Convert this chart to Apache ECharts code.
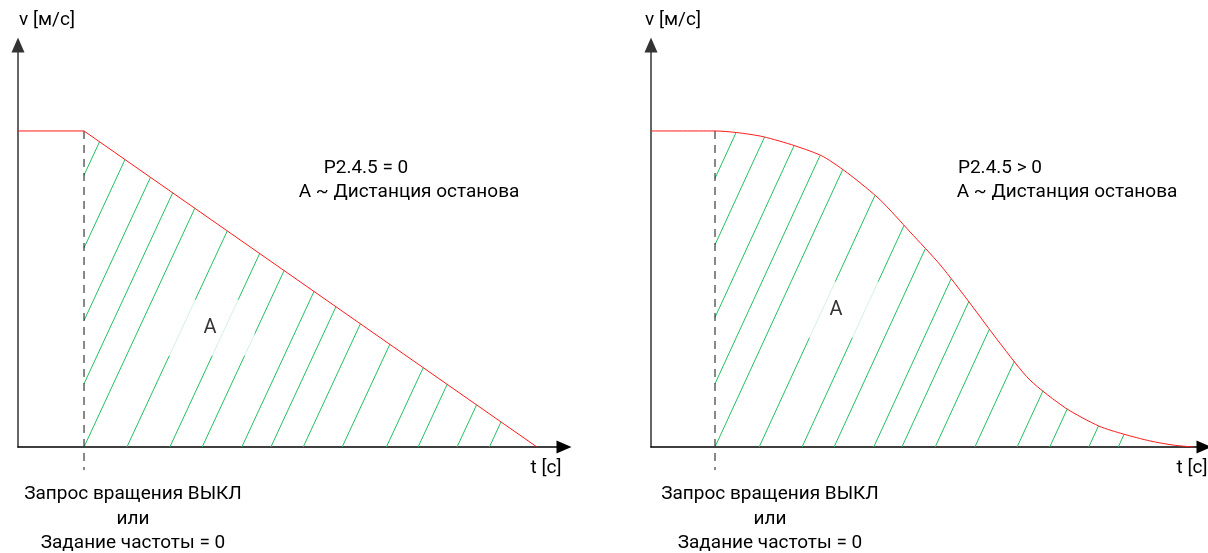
<!DOCTYPE html>
<html>
<head>
<meta charset="utf-8">
<script src="https://cdn.jsdelivr.net/npm/echarts@6/dist/echarts.min.js"></script>
<style>
  html, body { margin: 0; padding: 0; background: #fff; }
  #chart { width: 1208px; height: 553px; }
</style>
</head>
<body>
<div id="chart"></div>
<script>
// time in units where the stop request is at t = 1, speed normalised to the plateau (v = 1)
const STOP_T = 1

// left panel: P2.4.5 = 0, linear ramp
const leftSpeed = [[0, 1], [1, 1], [7.86, 0]]
const leftHatchFeet = [1.0, 1.65, 2.30, 2.79, 3.39, 3.83, 4.32, 4.91, 5.58, 6.06, 6.65, 7.14]
const leftHatchWall = [0.86, 0.63, 0.40, 0.20]
const leftSlope = 0.45

// right panel: P2.4.5 > 0, S-curve
const rightSpeed = [
  [0, 1], [1, 1], [1.34, 0.995], [1.75, 0.982], [2.25, 0.953], [2.69, 0.919],
  [3.11, 0.861], [3.58, 0.782], [4.05, 0.68], [4.52, 0.576], [4.98, 0.456],
  [5.45, 0.329], [5.92, 0.212], [6.48, 0.123], [7.0, 0.066], [7.38, 0.041],
  [7.8, 0.019], [8.16, 0.006], [8.47, 0]
]
const rightHatchFeet = [1.0, 1.69, 2.36, 2.86, 3.48, 3.92, 4.44, 5.06, 5.72, 6.23, 6.84, 7.30]
const rightHatchWall = [0.85, 0.64, 0.41, 0.20]
const rightSlope = 0.44

const leftLabelA = [2.91, 0.377]
const rightLabelA = [2.89, 0.434]

const RED = '#ff1a1a'
const GREEN = '#22c063'
const FONT = 'Roboto'

function curveAt(curve, t) {
  for (let i = 0; i < curve.length - 1; i++) {
    const [ta, va] = curve[i]
    const [tb, vb] = curve[i + 1]
    if (t >= ta && t <= tb) return va + (vb - va) * (t - ta) / (tb - ta)
  }
  return 0
}

// hatch line v = k * (t - c), from its start to where it meets the speed curve
function hatch(curve, wall, feet, k) {
  const starts = wall.map((v) => [STOP_T, v]).concat(feet.map((t) => [t, 0]))
  const segs = []
  starts.forEach(([ts, vs]) => {
    const c = ts - vs / k
    for (let i = 0; i < curve.length - 1; i++) {
      const tb = curve[i + 1][0]
      if (tb <= ts) continue
      const a = Math.max(curve[i][0], ts)
      const fa = curveAt(curve, a) - k * (a - c)
      const fb = curve[i + 1][1] - k * (tb - c)
      if (fa >= 0 && fb <= 0) {
        const t = a + (tb - a) * fa / (fa - fb)
        segs.push({ coords: [[ts, vs], [t, k * (t - c)]] })
        break
      }
    }
  })
  return segs
}

function axis(gridIndex, max, color) {
  return {
    type: 'value', gridIndex, min: 0, max,
    axisLine: { show: true, symbol: ['none', 'triangle'], symbolSize: [13, 15], lineStyle: { color, width: 1.5 } },
    axisTick: { show: false }, axisLabel: { show: false }, splitLine: { show: false }
  }
}

function panelSeries(idx, curve, wall, feet, k, labelA) {
  return [
    {
      type: 'lines', coordinateSystem: 'cartesian2d', xAxisIndex: idx, yAxisIndex: idx,
      data: hatch(curve, wall, feet, k), lineStyle: { color: GREEN, width: 1, opacity: 1 }, silent: true
    },
    {
      type: 'line', xAxisIndex: idx, yAxisIndex: idx, clip: false, symbol: 'none',
      data: [[STOP_T, 1], [STOP_T, -0.073]],
      lineStyle: { color: '#111', width: 1, type: [8, 6] }
    },
    {
      type: 'line', xAxisIndex: idx, yAxisIndex: idx, symbol: 'none', data: curve,
      smooth: idx === 1 ? 0.25 : false,
      lineStyle: { color: RED, width: 1 }, z: 4
    },
    {
      type: 'scatter', xAxisIndex: idx, yAxisIndex: idx, symbolSize: 0, data: [labelA], z: 5,
      label: {
        show: true, position: 'inside', formatter: 'A', color: '#000',
        fontFamily: FONT, fontSize: 20, backgroundColor: '#fff', padding: [18, 38]
      }
    }
  ]
}

function txt(x, y, text, align) {
  return {
    type: 'text', x, y,
    style: { text, fill: '#000', font: '19px ' + FONT, textAlign: align || 'center', textVerticalAlign: 'middle' }
  }
}

const chart = echarts.init(document.getElementById('chart'))
chart.setOption({
  animation: false,
  grid: [
    { left: 18, top: 45, width: 546, height: 402 },
    { left: 651, top: 45, width: 553, height: 402 }
  ],
  xAxis: [axis(0, 8.27, '#000'), axis(1, 8.64, '#000')],
  yAxis: [axis(0, 1.272, '#333'), axis(1, 1.272, '#333')],
  series: [
    ...panelSeries(0, leftSpeed, leftHatchWall, leftHatchFeet, leftSlope, leftLabelA),
    ...panelSeries(1, rightSpeed, rightHatchWall, rightHatchFeet, rightSlope, rightLabelA)
  ],
  graphic: [
    txt(47, 20, 'v [м/с]'), txt(673, 20, 'v [м/с]'),
    txt(546, 468, 't [c]'), txt(1192, 468, 't [c]'),
    txt(366, 168, 'P2.4.5 = 0'), txt(409, 192, 'A ~ Дистанция останова'),
    txt(1000, 168, 'P2.4.5 > 0'), txt(1067, 192, 'A ~ Дистанция останова'),
    txt(133, 494, 'Запрос вращения ВЫКЛ'), txt(133, 519, 'или'), txt(133, 543, 'Задание частоты = 0'),
    txt(770, 494, 'Запрос вращения ВЫКЛ'), txt(770, 519, 'или'), txt(770, 543, 'Задание частоты = 0')
  ]
})
</script>
</body>
</html>
